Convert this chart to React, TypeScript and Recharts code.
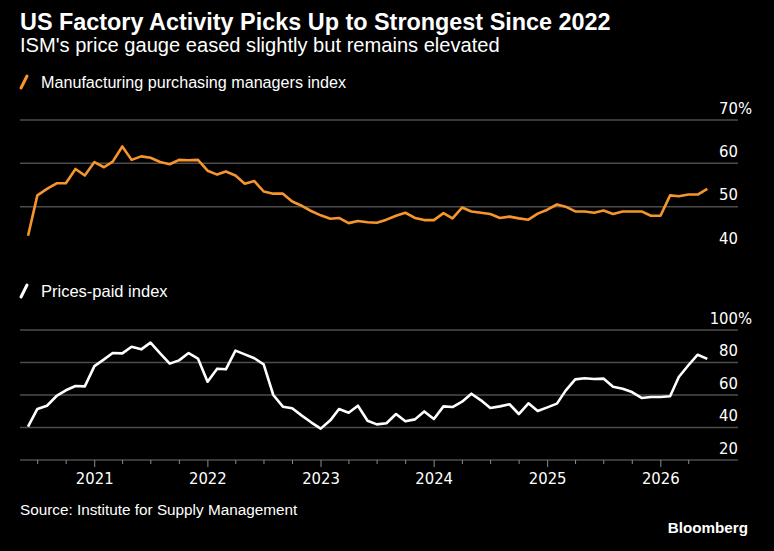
import React from "react";
import { LineChart, Line, XAxis, YAxis, ReferenceLine } from "recharts";

// ---- canvas & layout ----
const W = 774;
const H = 551;
const PLOT_LEFT = 20;
const PLOT_RIGHT = 738;
const TOP_PLOT_TOP = 120;
const TOP_PLOT_BOTTOM = 250;
const BOT_PLOT_TOP = 330;
const BOT_PLOT_BOTTOM = 460;
const AXIS_H = 30;

const BG = "#000000";
const GRID = "#4d4d4d";
const TICK = "#8c8c8c";
const ORANGE = "#f7952d";
const WHITE = "#ffffff";
const REG = "'Liberation Sans', Arial, sans-serif";
const NARROW = "'Liberation Sans Narrow', 'Arial Narrow', 'DejaVu Sans Condensed', sans-serif";

// ---- data (monthly, May 2020 onward) ----
const FIRST_YEAR = 2020;
const FIRST_MONTH = 5;

const pmi = [
  43.3, 52.6, 54.1, 55.4, 55.4, 58.7, 57.2, 60.3, 59.1, 60.4,
  63.9, 60.8, 61.6, 61.3, 60.3, 59.8, 60.8, 60.7, 60.8, 58.3,
  57.4, 58.1, 57.2, 55.3, 55.9, 53.5, 53.0, 53.0, 51.2, 50.2,
  49.0, 48.0, 47.2, 47.4, 46.2, 46.7, 46.4, 46.3, 47.0, 47.9,
  48.6, 47.4, 46.9, 46.9, 48.5, 47.3, 49.8, 48.9, 48.6, 48.3,
  47.4, 47.7, 47.3, 47.0, 48.4, 49.3, 50.5, 50.0, 48.9, 48.9,
  48.6, 49.1, 48.3, 48.9, 48.9, 48.9, 47.9, 47.9, 52.6, 52.4,
  52.8, 52.8, 54.1,
];

const pricesPaid = [
  40.5, 51.4, 53.4, 59.4, 62.9, 65.5, 65.3, 77.8, 81.9, 85.8,
  85.6, 89.7, 88.1, 92.2, 85.6, 79.3, 81.3, 85.8, 82.4, 68.2,
  76.2, 75.8, 87.3, 85.0, 82.6, 78.9, 60.0, 52.8, 51.8, 47.3,
  43.2, 39.3, 44.4, 51.4, 49.1, 53.4, 44.2, 41.9, 42.6, 48.3,
  43.8, 45.0, 49.9, 45.2, 53.0, 52.6, 55.9, 60.8, 56.7, 52.0,
  53.0, 54.3, 48.3, 54.9, 50.2, 52.4, 54.7, 62.7, 69.6, 70.3,
  69.8, 70.1, 65.1, 63.9, 61.8, 58.2, 58.8, 58.8, 59.2, 71.1,
  78.3, 84.8, 82.2,
];

const pmiTicks = [40, 50, 60, 70];
const pmiGrid = [50, 60, 70];
const pricesTicks = [20, 40, 60, 80, 100];
const pricesGrid = [40, 60, 80, 100];
const yearLabels = [2021, 2022, 2023, 2024, 2025, 2026];

// time domain of the shared x axis
const X_START = Date.UTC(2020, 4, 5);
const X_END = Date.UTC(2026, 8, 7);
const FIRST_QUARTER_TICK = Date.UTC(2020, 6, 1);
const LAST_QUARTER_TICK = Date.UTC(2026, 3, 1);

// each observation is plotted at the end of its month
const monthEnd = (i: number) => {
  const m0 = FIRST_MONTH - 1 + i;
  const y = FIRST_YEAR + Math.floor(m0 / 12);
  const m = m0 % 12;
  return Date.UTC(y, m + 1, 0);
};

const data = pmi.map((v, i) => ({ t: monthEnd(i), pmi: v, prices: pricesPaid[i] }));

const quarterTicks: number[] = [];
for (let y = 2020; y <= 2026; y++) {
  for (const m of [0, 3, 6, 9]) {
    const d = Date.UTC(y, m, 1);
    if (d >= FIRST_QUARTER_TICK && d <= LAST_QUARTER_TICK) quarterTicks.push(d);
  }
}

// value label that sits just above its level, right-aligned; the top one carries "%"
const ValueLabel = (props: any) => {
  const { viewBox, value, withPercent } = props;
  const ty = viewBox.y - 6.5;
  const rx = viewBox.x + viewBox.width;
  return (
    <g>
      <text x={rx} y={ty} fill={WHITE} fontSize={16.5} fontFamily={NARROW} textAnchor="end">
        {value}
      </text>
      {withPercent && (
        <text x={rx} y={ty} fill={WHITE} fontSize={16.5} fontFamily={NARROW} textAnchor="start">
          %
        </text>
      )}
    </g>
  );
};

// quarterly tick marks, with year labels on January
const TimeTick = (props: any) => {
  const { x, y, payload } = props;
  const d = new Date(payload.value);
  const isYear = d.getUTCMonth() === 0;
  const year = d.getUTCFullYear();
  return (
    <g>
      <line x1={x} x2={x} y1={y} y2={y + (isYear ? 7 : 4)} stroke={TICK} strokeWidth={1} />
      {isYear && yearLabels.includes(year) && (
        <text x={x} y={y + 23.5} fill={WHITE} fontSize={16.5} fontFamily={NARROW} textAnchor="middle">
          {year}
        </text>
      )}
    </g>
  );
};

const LegendMark = ({ x, y, color }: { x: number; y: number; color: string }) => (
  <line x1={x} y1={y} x2={x + 6} y2={y - 12} stroke={color} strokeWidth={3} strokeLinecap="round" />
);

const levelLines = (ticks: number[], grid: number[], top: number) =>
  ticks.map((v) => (
    <ReferenceLine
      key={v}
      y={v}
      stroke={grid.includes(v) ? GRID : "none"}
      strokeWidth={1.5}
      label={(p: any) => <ValueLabel {...p} value={v} withPercent={v === top} />}
    />
  ));

export default function App() {
  return (
    <div style={{ position: "absolute", left: 0, top: 0, width: W, height: H, background: BG, overflow: "hidden" }}>
      {/* Manufacturing PMI panel */}
      <div style={{ position: "absolute", left: 0, top: 0 }}>
        <LineChart
          width={W}
          height={H}
          data={data}
          margin={{ top: TOP_PLOT_TOP, right: W - PLOT_RIGHT, bottom: H - TOP_PLOT_BOTTOM, left: PLOT_LEFT }}
        >
          <XAxis dataKey="t" type="number" domain={[X_START, X_END]} allowDataOverflow hide />
          <YAxis domain={[40, 70]} ticks={pmiTicks} allowDataOverflow hide />
          {levelLines(pmiTicks, pmiGrid, 70)}
          <Line
            dataKey="pmi"
            type="linear"
            stroke={ORANGE}
            strokeWidth={2.6}
            strokeLinejoin="round"
            dot={false}
            isAnimationActive={false}
          />
        </LineChart>
      </div>

      {/* Prices-paid panel */}
      <div style={{ position: "absolute", left: 0, top: 0 }}>
        <LineChart
          width={W}
          height={H}
          data={data}
          margin={{ top: BOT_PLOT_TOP, right: W - PLOT_RIGHT, bottom: H - BOT_PLOT_BOTTOM - AXIS_H, left: PLOT_LEFT }}
        >
          <XAxis
            dataKey="t"
            type="number"
            domain={[X_START, X_END]}
            allowDataOverflow
            ticks={quarterTicks}
            interval={0}
            height={AXIS_H}
            tickSize={0}
            tickMargin={0}
            tickLine={false}
            axisLine={{ stroke: GRID, strokeWidth: 1.5 }}
            tick={<TimeTick />}
          />
          <YAxis domain={[20, 100]} ticks={pricesTicks} allowDataOverflow hide />
          {levelLines(pricesTicks, pricesGrid, 100)}
          <Line
            dataKey="prices"
            type="linear"
            stroke={WHITE}
            strokeWidth={2.6}
            strokeLinejoin="round"
            dot={false}
            isAnimationActive={false}
          />
        </LineChart>
      </div>

      {/* titles, legends and footer */}
      <svg width={W} height={H} style={{ position: "absolute", left: 0, top: 0, pointerEvents: "none" }}>
        <text x={20} y={30} fill={WHITE} fontSize={23.4} fontWeight="bold" fontFamily={REG}>
          US Factory Activity Picks Up to Strongest Since 2022
        </text>
        <text x={20} y={52} fill={WHITE} fontSize={20.1} fontFamily={REG}>
          ISM's price gauge eased slightly but remains elevated
        </text>
        <LegendMark x={21} y={88} color={ORANGE} />
        <text x={41} y={87.5} fill={WHITE} fontSize={16.15} fontFamily={REG}>
          Manufacturing purchasing managers index
        </text>
        <LegendMark x={21} y={297} color={WHITE} />
        <text x={41} y={297} fill={WHITE} fontSize={16.5} fontFamily={REG}>
          Prices-paid index
        </text>
        <text x={20} y={514.5} fill={WHITE} fontSize={15.3} fontFamily={REG}>
          Source: Institute for Supply Management
        </text>
        <text x={748} y={532.5} fill={WHITE} fontSize={15.2} fontWeight="bold" fontFamily={REG} textAnchor="end">
          Bloomberg
        </text>
      </svg>
    </div>
  );
}
